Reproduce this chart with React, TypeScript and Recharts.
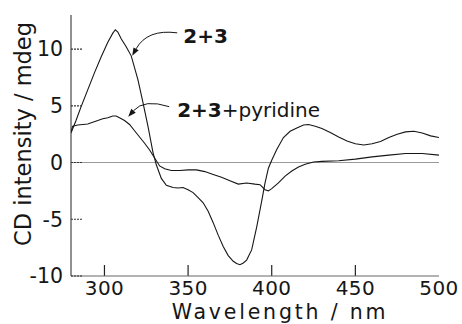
import {
  Line,
  LineChart,
  ReferenceDot,
  ReferenceLine,
  XAxis,
  YAxis,
} from "recharts";

// CD spectra: 2+3 and 2+3+pyridine
const wlA = [
  280, 283, 286, 290, 294, 298, 302, 305, 306.5, 308, 310, 313, 316, 320, 323,
  326, 329, 331, 334, 337, 341, 344, 347, 350, 353, 356, 359, 362, 365, 368,
  371, 374, 377, 379, 381, 383, 385, 388, 391, 394, 396, 398, 400, 403, 407,
  411, 415, 419, 422, 426, 430, 435, 440, 445, 450, 455, 460, 465, 470, 475,
  480, 485, 490, 495, 500,
];
const cdA = [
  2.6, 3.7, 4.9, 6.4, 7.9, 9.3, 10.6, 11.4, 11.7, 11.5, 10.9, 10.2, 9.4, 7.3,
  5.3, 3.2, 0.9, -0.2, -1.4, -2.0, -2.2, -2.25, -2.2, -2.4, -2.65, -3.1, -3.55,
  -4.3, -5.3, -6.4, -7.4, -8.2, -8.7, -8.9, -9.0, -8.85, -8.6, -7.7, -5.7,
  -3.4, -1.8, -0.5, 0.2, 1.15, 2.2, 2.75, 3.05, 3.3, 3.35, 3.2, 3.0, 2.65,
  2.25, 1.9, 1.65, 1.55, 1.65, 1.85, 2.2, 2.5, 2.7, 2.75, 2.6, 2.35, 2.2,
];

const wlB = [
  280, 281, 284, 287, 290, 293, 296, 299, 302, 305, 307, 309, 312, 315, 318,
  321, 324, 327, 330, 333, 336, 340, 345, 350, 355, 360, 365, 370, 375, 380,
  385, 390, 393, 396, 398, 400, 404, 408, 412, 416, 420, 425, 430, 440, 450,
  460, 470, 480, 490, 500,
];
const cdB = [
  2.7, 3.2, 3.3, 3.35, 3.4, 3.55, 3.7, 3.85, 3.95, 4.1, 4.1, 3.95, 3.7, 3.35,
  2.8, 2.25, 1.7, 1.1, 0.4, -0.3, -0.55, -0.7, -0.7, -0.65, -0.65, -0.8, -1.05,
  -1.3, -1.6, -1.9, -1.8, -1.9, -1.95, -2.4, -2.5, -2.3, -1.8, -1.2, -0.75,
  -0.4, -0.15, 0.05, 0.1, 0.15, 0.3, 0.5, 0.65, 0.8, 0.8, 0.65,
];

const xTicks = [300, 350, 400, 450, 500];
const yTicks = [-10, -5, 0, 5, 10];

const X_MIN = 280;
const X_MAX = 500;
const Y_MIN = -10;
const Y_MAX = 13;
const X_TICK_LEN = 0.97; // inward tick length, in y units (~11px)

const seriesA = wlA.map((wl, i) => ({ wl, cd: cdA[i] }));
const seriesB = wlB.map((wl, i) => ({ wl, cd: cdB[i] }));

const FONT = "DejaVu Sans, Liberation Sans, sans-serif";
const INK = "#161616";

function XTick(props: any) {
  return (
    <text
      x={props.x}
      y={props.y}
      dy="0.71em"
      textAnchor="middle"
      fontSize={20}
      letterSpacing={0.4}
      fontFamily={FONT}
      fill={INK}
    >
      {props.payload?.value}
    </text>
  );
}

// y ticks point into the plot, so the tick line is drawn here with the label
function YTick(props: any) {
  const x = Number(props.x);
  const y = Number(props.y);
  return (
    <g>
      <path
        d={`M${x + 8},${y}H${x + 19}`}
        stroke="#333"
        strokeWidth={1.2}
        strokeDasharray="2 1"
        fill="none"
      />
      <text
        x={x}
        y={y}
        dy="0.355em"
        textAnchor="end"
        fontSize={20.5}
        fontFamily={FONT}
        fill={INK}
      >
        {props.payload?.value}
      </text>
    </g>
  );
}

// curved arrow + label, drawn relative to a point on the curve
function ArrowNote({ viewBox, start, ctrl, tip, tx, ty, bold, rest }: any) {
  const cx = viewBox.x + viewBox.width / 2;
  const cy = viewBox.y + viewBox.height / 2;
  const dx = tip[0] - ctrl[0];
  const dy = tip[1] - ctrl[1];
  const len = Math.hypot(dx, dy);
  const ux = dx / len;
  const uy = dy / len;
  const bx = tip[0] - ux * 8;
  const by = tip[1] - uy * 8;
  const head = `${tip[0]},${tip[1]} ${bx - uy * 3},${by + ux * 3} ${bx + uy * 3},${by - ux * 3}`;
  return (
    <g transform={`translate(${cx},${cy})`}>
      <path
        d={`M${start[0]},${start[1]} Q${ctrl[0]},${ctrl[1]} ${bx},${by}`}
        fill="none"
        stroke={INK}
        strokeWidth={1}
      />
      <polygon points={head} fill={INK} />
      <text x={tx} y={ty} fontFamily={FONT} fontSize={20} fill={INK}>
        <tspan fontWeight="bold">{bold}</tspan>
        {rest ? <tspan>{rest}</tspan> : null}
      </text>
    </g>
  );
}

export default function App() {
  return (
    <div style={{ position: "absolute", left: 0, top: 0 }}>
      <LineChart
        width={462}
        height={324}
        margin={{ top: 15, right: 23, bottom: 0, left: 0 }}
        style={{ fontFamily: FONT }}
      >
        <XAxis
          dataKey="wl"
          type="number"
          domain={[X_MIN, X_MAX]}
          ticks={xTicks}
          allowDataOverflow
          height={48}
          tickLine={false}
          tickSize={0}
          tickMargin={5}
          stroke="#666"
          tick={<XTick />}
          label={{
            content: (p: any) => (
              <text
                x={p.viewBox.x + p.viewBox.width / 2 + 25}
                y={318.5}
                textAnchor="middle"
                fontSize={20.5}
                letterSpacing={2.8}
                fontFamily={FONT}
                fill={INK}
              >
                Wavelength / nm
              </text>
            ),
          }}
        />
        <XAxis
          xAxisId="top"
          orientation="top"
          type="number"
          domain={[X_MIN, X_MAX]}
          height={0}
          tick={false}
          tickLine={false}
          stroke="#8a8a8a"
          strokeDasharray="2 1"
        />
        <YAxis
          type="number"
          domain={[Y_MIN, Y_MAX]}
          ticks={yTicks}
          allowDataOverflow
          width={71}
          tickLine={false}
          tickSize={0}
          tickMargin={8}
          stroke="#222"
          tick={<YTick />}
          label={{
            content: () => (
              <text
                x={31}
                y={134}
                transform="rotate(-90 31 134)"
                textAnchor="middle"
                fontSize={22.5}
                fontFamily={FONT}
                fill={INK}
              >
                CD intensity / mdeg
              </text>
            ),
          }}
        />
        <YAxis
          yAxisId="right"
          orientation="right"
          domain={[Y_MIN, Y_MAX]}
          width={0}
          tick={false}
          tickLine={false}
          stroke="#8a8a8a"
        />
        <ReferenceLine y={0} stroke="#9a9a9a" strokeWidth={1.2} />
        {xTicks
          .filter((t) => t < X_MAX)
          .map((t) => (
            <ReferenceLine
              key={t}
              segment={[
                { x: t, y: Y_MIN },
                { x: t, y: Y_MIN + X_TICK_LEN },
              ]}
              stroke="#222"
              strokeWidth={1.2}
            />
          ))}
        <Line
          data={seriesA}
          dataKey="cd"
          stroke={INK}
          strokeWidth={1.1}
          dot={false}
          type="linear"
          isAnimationActive={false}
        />
        <Line
          data={seriesB}
          dataKey="cd"
          stroke={INK}
          strokeWidth={1.1}
          dot={false}
          type="linear"
          isAnimationActive={false}
        />
        <ReferenceDot
          x={316}
          y={9.4}
          r={1}
          fill="none"
          stroke="none"
          label={{
            content: (p: any) => (
              <ArrowNote
                viewBox={p.viewBox}
                start={[46, -23]}
                ctrl={[16, -27]}
                tip={[1, 0]}
                tx={52}
                ty={-13}
                bold="2+3"
              />
            ),
          }}
        />
        <ReferenceDot
          x={313}
          y={3.6}
          r={1}
          fill="none"
          stroke="none"
          label={{
            content: (p: any) => (
              <ArrowNote
                viewBox={p.viewBox}
                start={[43, -15]}
                ctrl={[18, -23]}
                tip={[2, -5]}
                tx={51}
                ty={-5}
                bold="2+3"
                rest="+pyridine"
              />
            ),
          }}
        />
      </LineChart>
    </div>
  );
}
